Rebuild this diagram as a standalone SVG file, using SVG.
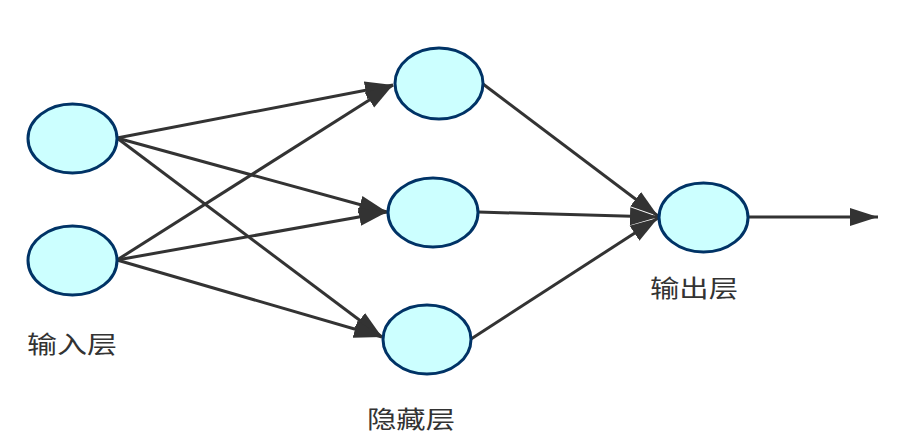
<svg xmlns="http://www.w3.org/2000/svg" width="899" height="440" viewBox="0 0 899 440">
<style>
.node{fill:#ccffff;stroke:#003366;stroke-width:3}
.edge{stroke:#333333;stroke-width:3;fill:none;marker-end:url(#arr)}
.lbl{font-family:"Noto Sans CJK SC","Noto Sans",sans-serif;font-size:24px;fill:#333333}
</style>
<defs>
<marker id="arr" markerUnits="userSpaceOnUse" markerWidth="30" markerHeight="20" refX="28" refY="9" orient="auto" viewBox="0 0 30 18">
<path d="M0,0 L28,9 L0,18 z" fill="#333333"/>
</marker>
</defs>
<rect width="899" height="440" fill="#ffffff"/>
<g id="connectors">
<line class="edge" x1="117" y1="138" x2="393" y2="85"/>
<line class="edge" x1="117" y1="138" x2="387" y2="212"/>
<line class="edge" x1="117" y1="138" x2="382" y2="337"/>
<line class="edge" x1="117" y1="260" x2="393" y2="85"/>
<line class="edge" x1="117" y1="260" x2="387" y2="212"/>
<line class="edge" x1="117" y1="260" x2="382" y2="337"/>
<line class="edge" x1="483" y1="84" x2="658" y2="216"/>
<line class="edge" x1="478" y1="212" x2="658" y2="217"/>
<line class="edge" x1="471" y1="339" x2="658" y2="218"/>
<line class="edge" x1="748" y1="217" x2="878" y2="217"/>
</g>
<g id="in1"><ellipse class="node" cx="72.5" cy="138.5" rx="44.5" ry="34.5"/></g>
<g id="in2"><ellipse class="node" cx="72.5" cy="260.5" rx="44.5" ry="34.5"/></g>
<g id="h1"><ellipse class="node" cx="439" cy="83.5" rx="44" ry="35.5"/></g>
<g id="h2"><ellipse class="node" cx="433" cy="212.5" rx="45" ry="34.5"/></g>
<g id="h3"><ellipse class="node" cx="427" cy="339.5" rx="44" ry="34.5"/></g>
<g id="out"><ellipse class="node" cx="703.5" cy="217.5" rx="44.5" ry="34.5"/></g>
<g id="labels">
<text class="lbl" x="27" y="353" textLength="90" lengthAdjust="spacingAndGlyphs">输入层</text>
<text class="lbl" x="367" y="428" textLength="88" lengthAdjust="spacingAndGlyphs">隐藏层</text>
<text class="lbl" x="650" y="297" textLength="88" lengthAdjust="spacingAndGlyphs">输出层</text>
</g>
</svg>
